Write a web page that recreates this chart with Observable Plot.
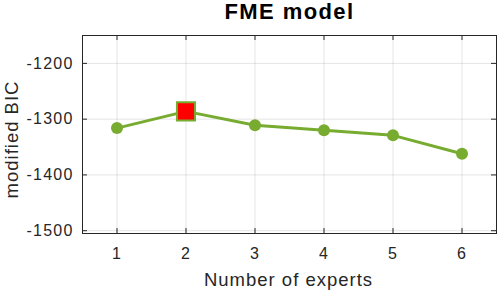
<!DOCTYPE html>
<html>
<head>
<meta charset="utf-8">
<script src="https://cdn.jsdelivr.net/npm/d3@7"></script>
<script src="https://cdn.jsdelivr.net/npm/@observablehq/plot@0.6"></script>
<style>
  html, body { margin: 0; padding: 0; background: #fff; }
  svg { display: block; }
</style>
</head>
<body>
<div id="chart"></div>
<script>
const experts = [1, 2, 3, 4, 5, 6];
const bic = [-1316, -1286, -1311, -1320, -1329, -1362];
const bestExpert = 2;
const xTicks = [1, 2, 3, 4, 5, 6];
const yTicks = [-1500, -1400, -1300, -1200];
const title = "FME model";
const xLabel = "Number of experts";
const yLabel = "modified BIC";

const data = experts.map((e, i) => ({experts: e, bic: bic[i]}));
const best = data.filter(d => d.experts === bestExpert);

const ink = "#262626";
const green = "#77AC30";
const W = 498, H = 290, ML = 82, MR = 2, MT = 35, MB = 57;
const frameW = W - ML - MR, frameH = H - MT - MB, tick = 5;

const chart = Plot.plot({
  width: W,
  height: H,
  marginLeft: ML,
  marginRight: MR,
  marginTop: MT,
  marginBottom: MB,
  style: {fontFamily: "'Liberation Sans', Arial, sans-serif", fontSize: "16px", color: ink, background: "#fff"},
  x: {domain: [0.5, 6.5]},
  y: {domain: [-1505, -1150]},
  marks: [
    Plot.gridX(xTicks, {stroke: ink, strokeOpacity: 0.12}),
    Plot.gridY(yTicks, {stroke: ink, strokeOpacity: 0.12}),
    // inward ticks on all four sides
    Plot.tickY(yTicks, {y: d => d, insetRight: frameW - tick, stroke: ink}),
    Plot.tickY(yTicks, {y: d => d, insetLeft: frameW - tick, stroke: ink}),
    Plot.tickX(xTicks, {x: d => d, insetTop: frameH - tick, stroke: ink}),
    Plot.tickX(xTicks, {x: d => d, insetBottom: frameH - tick, stroke: ink}),
    Plot.frame({stroke: ink, strokeWidth: 1}),
    Plot.axisX(xTicks, {anchor: "bottom", tickSize: 0, tickPadding: 14, label: null, fill: ink, fontSize: 16, tickFormat: d => String(d)}),
    Plot.axisY(yTicks, {anchor: "left", tickSize: 0, tickPadding: 9, label: null, fill: ink, fontSize: 16, tickFormat: d => String(d)}),
    Plot.line(data, {x: "experts", y: "bic", stroke: green, strokeWidth: 3}),
    Plot.dot(data, {x: "experts", y: "bic", r: 6, fill: green, stroke: "none"}),
    Plot.dot(best, {x: "experts", y: "bic", symbol: "square", r: 10.2, fill: "#ff0000", stroke: green, strokeWidth: 2}),
    Plot.text([title], {text: d => d, frameAnchor: "top", textAnchor: "middle", lineAnchor: "bottom", dy: -17, dx: 0, fontSize: 22, fontWeight: "bold", fill: "#000"}),
    Plot.text([xLabel], {text: d => d, frameAnchor: "bottom", textAnchor: "middle", lineAnchor: "bottom", dy: 52, dx: -1, fontSize: 18.5, fill: ink}),
    Plot.text([yLabel], {text: d => d, frameAnchor: "left", textAnchor: "middle", lineAnchor: "bottom", rotate: -90, dx: -65, dy: 5, fontSize: 18.5, fill: ink})
  ]
});
const svg = d3.select(chart);
svg.selectAll('g[aria-label="x-axis tick label"] text, g[aria-label="y-axis tick label"] text').style("letter-spacing", "1.2px");
svg.selectAll('g[aria-label="text"] text').each(function () {
  const t = this.textContent;
  const ls = t === title ? "1.4px" : "1px";
  d3.select(this).style("letter-spacing", ls);
});
document.getElementById("chart").appendChild(chart);
</script>
</body>
</html>
